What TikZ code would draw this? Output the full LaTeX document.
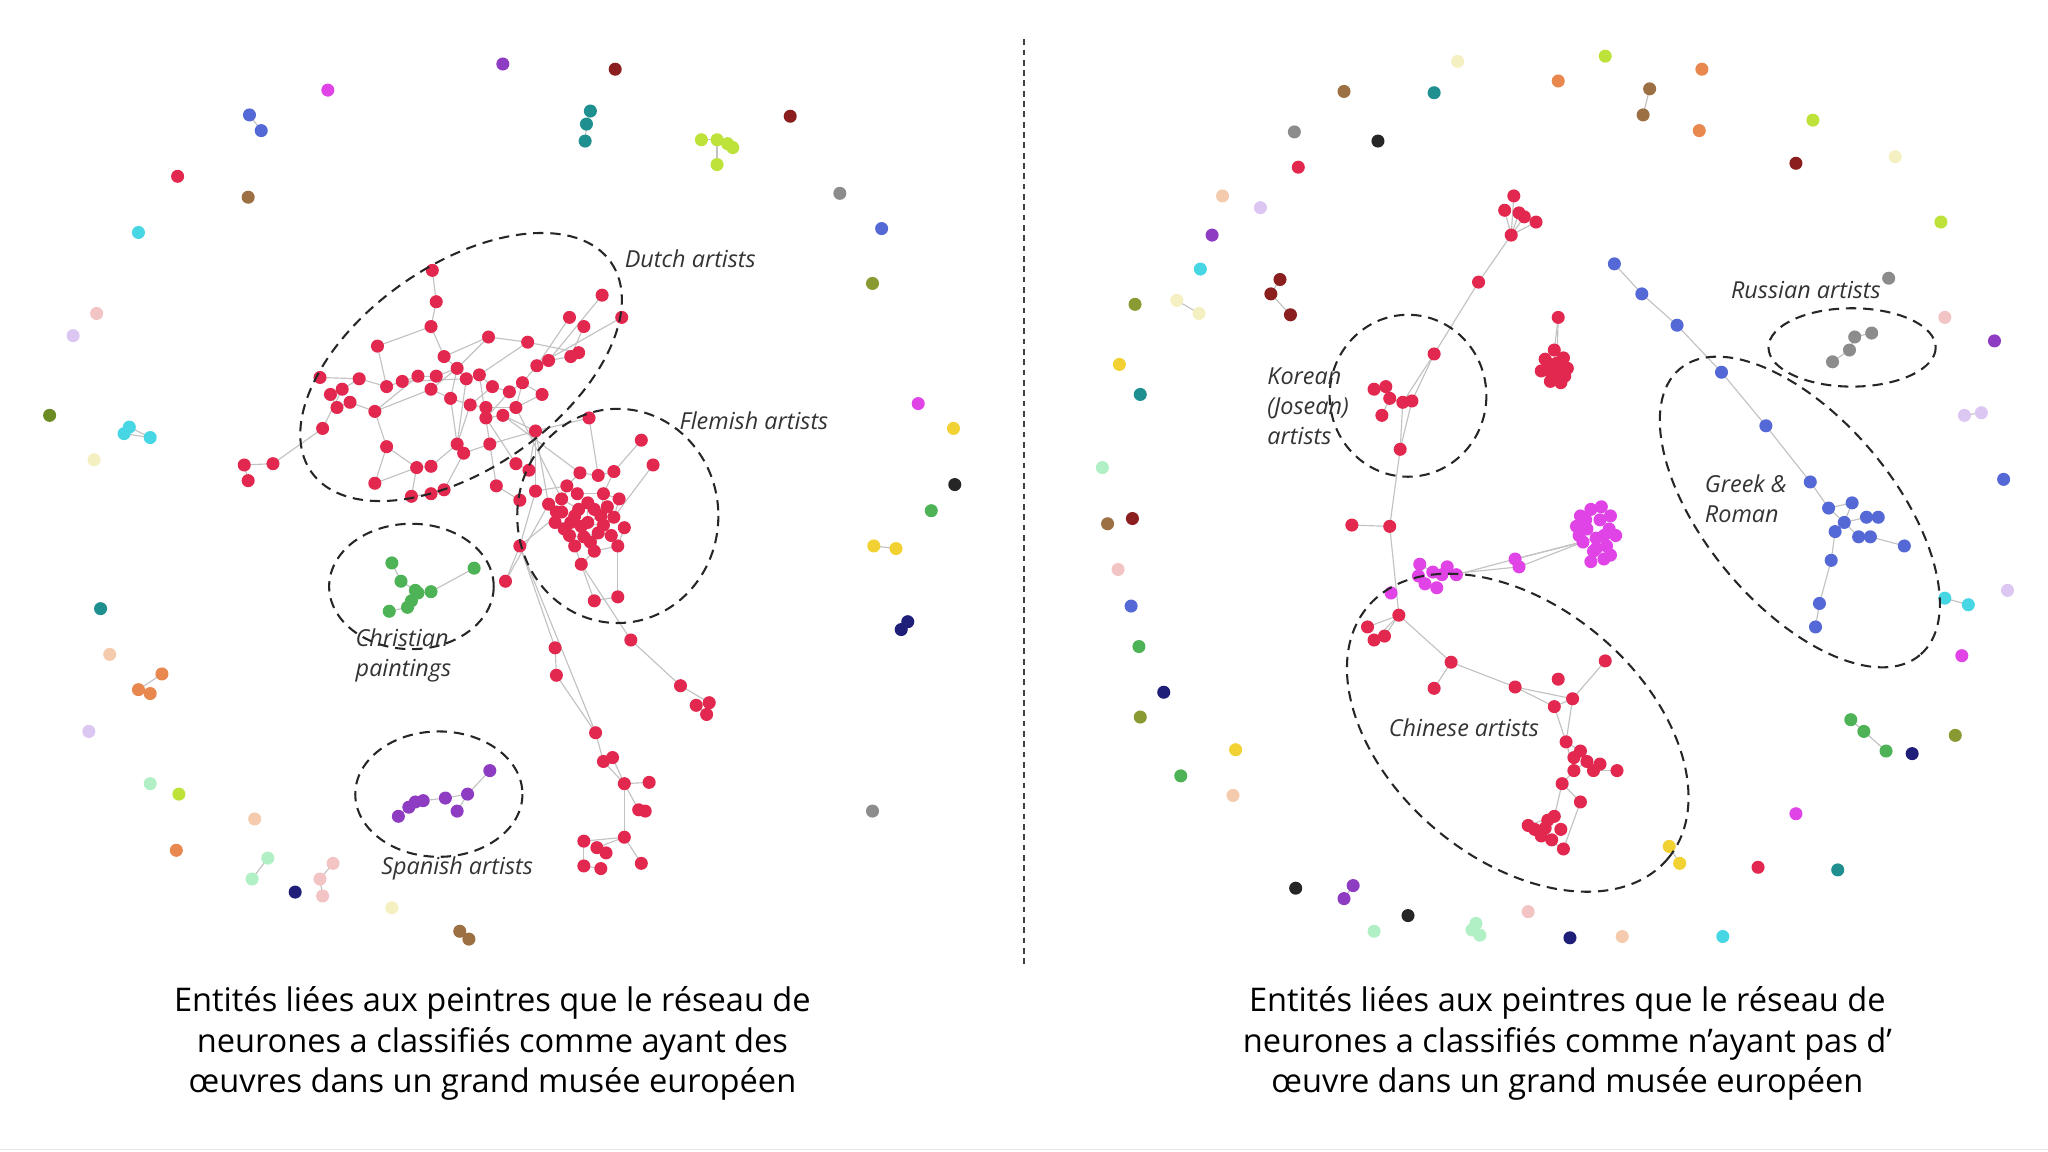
\documentclass[tikz,border=0pt]{standalone}
\usepackage{fontspec}
\setmainfont{Open Sans}
\definecolor{artred}{HTML}{E2284E}
\definecolor{edgegray}{HTML}{C2C2C2}
\definecolor{xgreen}{HTML}{4DB356}
\definecolor{xpurple}{HTML}{8E3DC2}
\definecolor{xmagenta}{HTML}{E043E6}
\definecolor{xblue}{HTML}{5468D6}
\definecolor{xgray}{HTML}{8C8C8C}
\definecolor{xdarkred}{HTML}{8B1F1F}
\definecolor{xteal}{HTML}{1F8F8F}
\definecolor{xlime}{HTML}{BDE33A}
\definecolor{xbrown}{HTML}{9C7042}
\definecolor{xcyan}{HTML}{47D6E3}
\definecolor{xolive}{HTML}{8A9A33}
\definecolor{xolivegreen}{HTML}{6B8C24}
\definecolor{xpink}{HTML}{F2C4C4}
\definecolor{xlavender}{HTML}{DCC6F2}
\definecolor{xcream}{HTML}{F5F0C2}
\definecolor{xblack}{HTML}{262626}
\definecolor{xyellow}{HTML}{F2D233}
\definecolor{xnavy}{HTML}{1F1F7A}
\definecolor{xpeach}{HTML}{F5CBAE}
\definecolor{xorange}{HTML}{E8874E}
\definecolor{xmint}{HTML}{B0F0C4}

%% network nodes, x/y in pixels
\def\redleft{331/207, 334/231, 330/250, 289/265, 374/258, 404/262, 461/226, 476/243, 436/243, 447/250,
  340/273, 350/282, 320/288, 308/292, 296/296, 275/290, 262/298, 253/302, 258/312, 247/328,
  268/308, 287/315, 357/290, 367/287, 377/296, 390/300, 400/293, 411/280, 420/276, 437/273,
  443/270, 415/302, 330/298, 334/288, 345/305, 360/310, 372/312, 395/312, 296/342, 319/358,
  330/357, 350/340, 355/347, 375/340, 410/330, 287/370, 330/378, 340/375, 315/380, 380/372,
  398/383, 410/376, 187/356, 190/368, 209/355, 245/289, 372/320, 385/318,
  451/320, 491/337, 500/356, 470/361, 458/364, 444/362, 434/372, 462/378, 474/382, 450/385,
  430/392, 425/400, 437/400, 450/400, 460/395, 470/396, 447/411, 458/408, 468/410, 440/418,
  445/432, 455/422, 473/418, 455/460, 473/457, 420/386, 430/382, 443/390, 436/410,
  398/418, 387/445, 483/490, 425/496, 426/517, 521/525, 543/538, 533/540, 541/547, 456/561,
  462/583, 469/580, 478/600, 497/599, 489/620, 494/621, 478/641, 447/644, 457/649, 464/653,
  447/663, 460/665, 491/661, 395/355, 405/360,
  442/378, 455/390, 465/388, 432/405, 445/403, 462/402, 452/415, 440/395, 426/392, 478/404}
\def\redright{1159/150, 1152/161, 1163/163, 1167/166, 1176/170, 1157/180, 1132/216, 1098/271, 1052/298, 1061/296,
  1064/305, 1058/318, 1074/308, 1081/307, 1072/344, 1035/402, 1064/403, 1071/471, 1047/480, 1052/490,
  1060/487, 1111/507, 1098/527, 1160/526, 1193/520, 1229/506, 1190/541, 1204/535, 1199/568, 1210/575,
  1215/583, 1220/590, 1238/590, 1205/590, 1196/600, 1210/614, 1190/625, 1170/632, 1180/640, 1197/650,
  1183/634, 1188/643, 1193/243, 1225/585, 1205/580,
  1183/275, 1190/268, 1197/274, 1186/284, 1194/286, 1180/284, 1200/282, 1187/292, 1195/293, 1192/278,
  1185/278, 1198/288, 1190/290, 1175/635, 1195/635, 1185/628}
\def\pinkright{1087/432, 1086/441, 1097/438, 1104/440, 1115/440, 1100/450, 1091/447, 1160/428, 1163/434, 1065/454,
  1108/434, 1210/395, 1218/390, 1225/398, 1232/405, 1215/405, 1222/412, 1230/418, 1212/415, 1220/422,
  1228/428, 1218/430, 1237/410, 1207/403, 1226/388, 1233/425,
  1214/398, 1228/410, 1222/420, 1233/395, 1209/410}
\def\greekright{1236/202, 1257/225, 1284/249, 1318/285, 1352/326, 1386/369, 1400/389, 1418/385, 1412/400, 1429/396,
  1438/396, 1405/407, 1423/411, 1432/411, 1458/418, 1402/429, 1393/462, 1390/480}
\def\christleft{300/431, 307/445, 320/454, 315/460, 363/435, 298/468, 312/465, 330/453, 318/452}
\def\spainleft{375/590, 358/608, 341/611, 324/613, 313/618, 305/625, 350/621, 318/614}
\def\russright{1403/277, 1416/268, 1420/258, 1433/255}

%% isolated entities
\def\strays{s1/385/49/xpurple, s2/471/53/xdarkred, s3/251/69/xmagenta, s4/191/88/xblue, s5/200/100/xblue,
  s6/452/85/xteal, s7/449/95/xteal, s8/448/108/xteal, s9/605/89/xdarkred, s10/136/135/artred,
  s11/537/107/xlime, s12/549/107/xlime, s13/561/113/xlime, s14/549/126/xlime, s15/557/110/xlime,
  s16/190/151/xbrown, s17/643/148/xgray, s18/106/178/xcyan, s19/675/175/xblue, s20/668/217/xolive,
  s21/74/240/xpink, s22/56/257/xlavender, s23/38/318/xolivegreen, s24/95/332/xcyan, s25/99/327/xcyan,
  s26/115/335/xcyan, s27/703/309/xmagenta, s28/730/328/xyellow, s29/72/352/xcream, s30/731/371/xblack,
  s31/713/391/xgreen, s32/669/418/xyellow, s33/686/420/xyellow, s34/77/466/xteal, s35/695/476/xnavy,
  s36/690/482/xnavy, s37/84/501/xpeach, s38/124/516/xorange, s39/106/528/xorange, s40/115/531/xorange,
  s41/68/560/xlavender, s42/115/600/xmint, s43/137/608/xlime, s44/195/627/xpeach, s45/668/621/xgray,
  s46/135/651/xorange, s47/205/657/xmint, s48/193/673/xmint, s49/255/661/xpink, s50/245/673/xpink,
  s51/247/686/xpink, s52/226/683/xnavy, s53/300/695/xcream, s54/352/713/xbrown, s55/359/719/xbrown,
  t1/1116/47/xcream, t2/1229/43/xlime, t3/1303/53/xorange, t4/1029/70/xbrown, t5/1098/71/xteal,
  t6/1193/62/xorange, t7/1263/68/xbrown, t8/1258/88/xbrown, t9/1301/100/xorange, t10/1388/92/xlime,
  t11/991/101/xgray, t12/1055/108/xblack, t13/994/128/artred, t14/1375/125/xdarkred, t15/1451/120/xcream,
  t16/936/150/xpeach, t17/965/159/xlavender, t18/1486/170/xlime, t19/928/180/xpurple, t20/919/206/xcyan,
  t21/980/214/xdarkred, t22/973/225/xdarkred, t23/988/241/xdarkred, t24/869/233/xolive, t25/901/230/xcream,
  t26/918/240/xcream, t27/1446/213/xgray, t28/1489/243/xpink, t29/1527/261/xpurple, t30/857/279/xyellow,
  t31/873/302/xteal, t32/1504/318/xlavender, t33/1517/316/xlavender, t34/844/358/xmint, t35/1534/367/xblue,
  t36/848/401/xbrown, t37/867/397/xdarkred, t38/856/436/xpink, t39/1537/452/xlavender, t40/866/464/xblue,
  t41/1489/458/xcyan, t42/1507/463/xcyan, t43/872/495/xgreen, t44/1502/502/xmagenta, t45/891/530/xnavy,
  t46/873/549/xolive, t47/946/574/xyellow, t48/904/594/xgreen, t49/1417/551/xgreen, t50/1427/560/xgreen,
  t51/1444/575/xgreen, t52/1464/577/xnavy, t53/1497/563/xolive, t54/944/609/xpeach, t55/1375/623/xmagenta,
  t56/1278/648/xyellow, t57/1286/661/xyellow, t58/1346/664/artred, t59/1407/666/xteal, t60/992/680/xblack,
  t61/1036/678/xpurple, t62/1029/688/xpurple, t63/1078/701/xblack, t64/1052/713/xmint, t65/1130/707/xmint,
  t66/1133/716/xmint, t67/1127/712/xmint, t68/1170/698/xpink, t69/1202/718/xnavy, t70/1242/717/xpeach,
  t71/1319/717/xcyan}

\begin{document}
\begin{tikzpicture}[x=0.02cm,y=-0.02cm,
  edge/.style={draw=edgegray,line width=0.5pt},
  entity/.style={fill=#1},
  group/.style={draw=black!85,line width=0.9pt,dash pattern=on 4.5pt off 3pt},
  divider/.style={draw=black!75,line width=0.5pt,dash pattern=on 2.5pt off 2pt},
  tag/.style={font=\fontsize{10.2}{13}\selectfont\itshape,text=black!80,align=left,inner sep=0pt},
  caption/.style={font=\fontsize{14.2}{17.6}\selectfont,align=center,inner sep=0pt}]

\useasboundingbox (0,0) rectangle (1568,882);
\draw[black!10] (0,880) -- (1568,880);

%%Nodes
\foreach \x/\y [count=\i] in \redleft {\coordinate (L\i) at (\x,\y);}
\foreach \x/\y [count=\i] in \redright {\coordinate (R\i) at (\x,\y);}
\foreach \x/\y [count=\i] in \pinkright {\coordinate (M\i) at (\x,\y);}
\foreach \x/\y [count=\i] in \greekright {\coordinate (B\i) at (\x,\y);}
\foreach \x/\y [count=\i] in \christleft {\coordinate (G\i) at (\x,\y);}
\foreach \x/\y [count=\i] in \spainleft {\coordinate (P\i) at (\x,\y);}
\foreach \x/\y [count=\i] in \russright {\coordinate (K\i) at (\x,\y);}
\foreach \n/\x/\y/\c in \strays {\coordinate (\n) at (\x,\y);}

%%Links
\foreach \a/\b in {1/2, 2/3, 3/11, 11/12, 4/15, 5/12, 6/24, 7/29, 8/28, 9/28, 10/30, 29/30, 30/31, 12/23,
  23/24, 24/25, 25/26, 26/27, 27/28, 12/34, 34/13, 13/14, 14/15, 15/16, 16/17, 17/18, 18/19, 19/21,
  21/22, 22/33, 33/35, 35/36, 36/37, 37/38, 38/32, 32/27, 16/56, 20/17, 20/55, 55/53, 53/54, 13/22,
  22/39, 39/40, 40/41, 41/42, 42/43, 43/44, 44/45, 35/42, 46/39, 47/48, 48/43, 49/47, 40/49, 50/44,
  51/50, 52/45, 12/35, 25/36, 23/42, 26/57, 57/58, 58/45, 14/23, 27/38, 3/4, 33/12, 36/42, 24/44,
  31/6, 6/5, 5/11, 111/57, 112/45, 111/112, 46/40,
  45/59, 45/84, 38/85, 52/65, 58/64, 59/63, 60/62, 61/74, 62/63, 63/64, 64/65, 65/69, 66/67, 67/74,
  68/72, 69/70, 70/71, 71/72, 72/73, 73/74, 75/76, 76/77, 75/78, 78/79, 79/80, 80/81, 77/81, 82/79,
  83/81, 82/83, 84/85, 85/86, 86/68, 87/75, 71/87, 73/66, 68/73, 62/66, 80/76, 84/69,
  69/88, 88/89, 52/88, 88/91, 91/92, 92/97, 88/97, 97/98, 98/99, 99/100, 100/101, 100/102, 102/103,
  100/104, 104/105, 104/106, 106/107, 105/108, 108/109, 104/110, 79/90, 90/93, 93/94, 94/95, 95/96,
  89/84, 98/100, 113/66, 115/74, 118/71, 122/81}
  \draw[edge] (L\a) -- (L\b);
\foreach \a/\b in {1/6, 2/6, 3/6, 4/6, 5/6, 6/7, 7/8, 8/14, 8/13, 9/10, 10/11, 11/13, 13/14, 12/11,
  14/15, 13/15, 15/17, 16/17, 17/18, 18/19, 18/20, 18/21, 18/22, 22/23, 22/24, 24/28, 24/27, 27/28,
  28/26, 27/29, 28/29, 29/30, 30/31, 31/32, 32/33, 31/34, 34/35, 35/36, 35/37, 37/38, 37/39, 39/40,
  38/41, 41/42, 36/40, 29/34, 43/47, 43/55, 30/45, 31/44}
  \draw[edge] (R\a) -- (R\b);
\foreach \a/\b in {1/3, 3/4, 4/5, 2/7, 7/6, 3/11, 11/5, 5/8, 4/9, 8/19, 9/19, 8/17}
  \draw[edge] (M\a) -- (M\b);
\foreach \a/\b in {1/2, 2/3, 3/4, 4/5, 5/6, 6/7, 7/9, 7/8, 8/9, 9/10, 10/11, 9/12, 9/13, 13/14,
  14/15, 12/16, 16/17, 17/18}
  \draw[edge] (B\a) -- (B\b);
\foreach \a/\b in {1/2, 2/9, 9/3, 3/4, 4/7, 7/6, 3/8, 8/5, 9/4}
  \draw[edge] (G\a) -- (G\b);
\foreach \a/\b in {1/2, 2/3, 3/4, 4/5, 5/6, 2/7, 4/8}
  \draw[edge] (P\a) -- (P\b);
\foreach \a/\b in {1/2, 2/3, 3/4}
  \draw[edge] (K\a) -- (K\b);
\foreach \a/\b in {s4/s5, s6/s7, s7/s8, s11/s12, s12/s13, s12/s14, s12/s15, s24/s26, s25/s26,
  s32/s33, s35/s36, s38/s39, s39/s40, s47/s48, s49/s50, s50/s51, s54/s55,
  t7/t8, t21/t22, t22/t23, t25/t26, t32/t33, t41/t42, t49/t50, t50/t51, t56/t57, t61/t62,
  t65/t66, t66/t67}
  \draw[edge] (\a) -- (\b);

%%Entities
\foreach \x/\y [count=\i] in \redleft {\fill[entity=artred] (L\i) circle (5);}
\foreach \x/\y [count=\i] in \redright {\fill[entity=artred] (R\i) circle (5);}
\foreach \x/\y [count=\i] in \pinkright {\fill[entity=xmagenta] (M\i) circle (5);}
\foreach \x/\y [count=\i] in \greekright {\fill[entity=xblue] (B\i) circle (5);}
\foreach \x/\y [count=\i] in \christleft {\fill[entity=xgreen] (G\i) circle (5);}
\foreach \x/\y [count=\i] in \spainleft {\fill[entity=xpurple] (P\i) circle (5);}
\foreach \x/\y [count=\i] in \russright {\fill[entity=xgray] (K\i) circle (5);}
\foreach \n/\x/\y/\c in \strays {\fill[entity=\c] (\n) circle (5);}

%%Groups
\draw[group, rotate around={35:(353,281)}] (353,281) ellipse [x radius=140, y radius=78];
\draw[group] (473,395) ellipse [x radius=77, y radius=82];
\draw[group] (315,449) ellipse [x radius=63, y radius=48];
\draw[group] (336,608) ellipse [x radius=64, y radius=48];
\draw[group] (1078,303) ellipse [x radius=60, y radius=62];
\draw[group, rotate around={-40:(1162,561)}] (1162,561) ellipse [x radius=150, y radius=97];
\draw[group, rotate around={-50:(1378,392)}] (1378,392) ellipse [x radius=143, y radius=72];
\draw[group] (1418,266) ellipse [x radius=64, y radius=30];

%%Labels
\node[tag, anchor=west] (dutch) at (478,198) {Dutch artists};
\node[tag, anchor=west] (flemish) at (520,322) {Flemish artists};
\node[tag, anchor=west] (christian) at (272,502) {Christian\\paintings};
\node[tag] (spanish) at (350,665) {Spanish artists};
\node[tag, anchor=west] (korean) at (970,311) {Korean\\(Josean)\\artists};
\node[tag, anchor=west] (chinese) at (1063,557) {Chinese artists};
\node[tag, anchor=west] (greek) at (1305,382) {Greek \&\\Roman};
\node[tag, anchor=west] (russian) at (1325,222) {Russian artists};

\draw[divider] (784,30) -- (784,738);

\node[caption] (capleft) at (377,799) {Entités liées aux peintres que le réseau de\\neurones a classifiés comme ayant des\\œuvres dans un grand musée européen};
\node[caption] (capright) at (1200,799) {Entités liées aux peintres que le réseau de\\neurones a classifiés comme n’ayant pas d’\\œuvre dans un grand musée européen};
\end{tikzpicture}
\end{document}
